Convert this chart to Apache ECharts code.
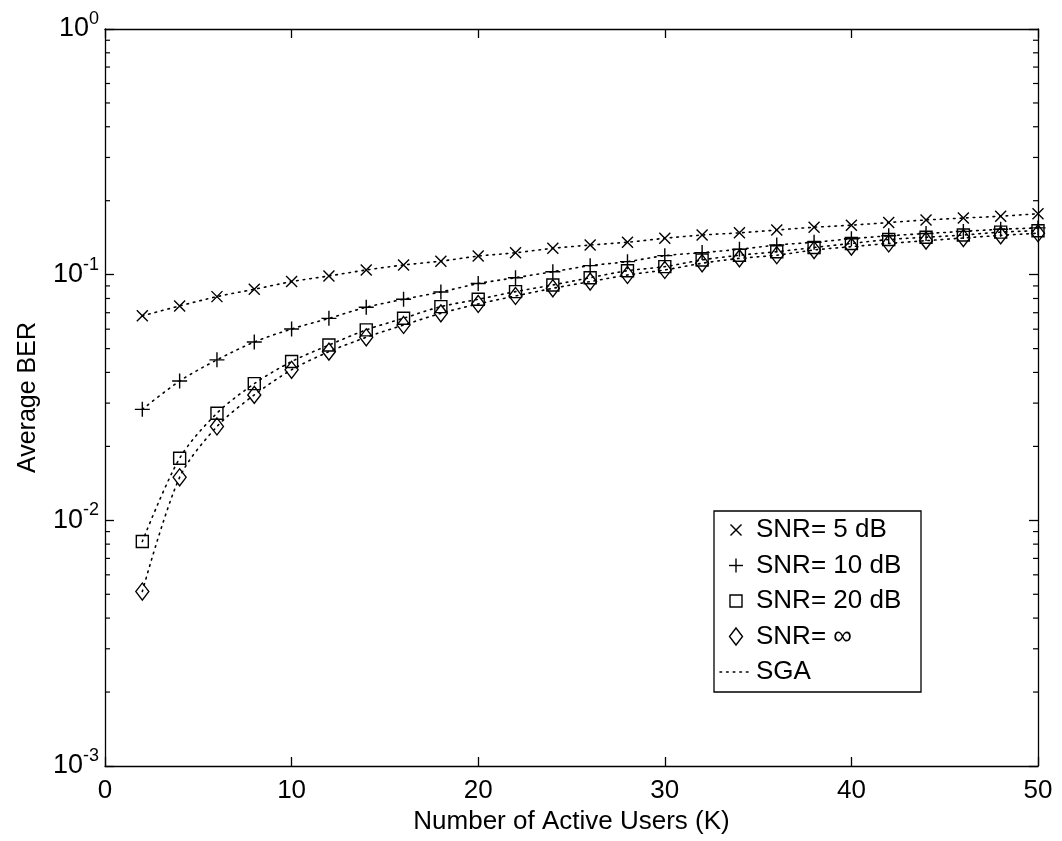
<!DOCTYPE html>
<html>
<head>
<meta charset="utf-8">
<script src="https://cdn.jsdelivr.net/npm/echarts@6/dist/echarts.min.js"></script>
<style>html,body{margin:0;padding:0;background:#fff}#c{width:1062px;height:841px}</style>
</head>
<body>
<div id="c"></div>
<script>
// ---- data ----
var users = [2,4,6,8,10,12,14,16,18,20,22,24,26,28,30,32,34,36,38,40,42,44,46,48,50];
var snr5  = [0.068,0.0746,0.0814,0.0872,0.0937,0.0988,0.1045,0.1095,0.1135,0.119,0.1228,0.128,0.132,0.1355,0.1406,0.145,0.148,0.152,0.156,0.159,0.163,0.167,0.170,0.173,0.177];
var snr10 = [0.0283,0.0369,0.045,0.0532,0.0601,0.0664,0.0737,0.0794,0.085,0.092,0.0972,0.1028,0.1088,0.113,0.1195,0.123,0.1268,0.132,0.1355,0.140,0.144,0.147,0.150,0.153,0.155];
var snr20 = [0.0082,0.0179,0.0273,0.036,0.0443,0.0517,0.0596,0.0665,0.0741,0.0794,0.0853,0.0908,0.0972,0.1038,0.1078,0.1148,0.120,0.124,0.129,0.134,0.139,0.142,0.145,0.149,0.151];
var snrInf= [0.00513,0.01497,0.0241,0.0324,0.041,0.0486,0.0556,0.0624,0.0696,0.076,0.0819,0.088,0.0937,0.0997,0.1045,0.1113,0.1165,0.120,0.126,0.130,0.134,0.1375,0.141,0.1445,0.1475];
var minorTickValues = [0.002,0.003,0.004,0.005,0.006,0.007,0.008,0.009,0.02,0.03,0.04,0.05,0.06,0.07,0.08,0.09,0.2,0.3,0.4,0.5,0.6,0.7,0.8,0.9];
var legendNames = ['SNR= 5 dB','SNR= 10 dB','SNR= 20 dB','SNR= \u221E','SGA'];
var xTitle = 'Number of Active Users (K)';
var yTitle = 'Average BER';

function pairs(ys){ return users.map(function(x,i){ return [x, ys[i]]; }); }

var FONT = 'Liberation Sans, Arial, Helvetica, sans-serif';
var crossPath = 'path://M0,0 L10,10 M10,0 L0,10';
var plusPath = 'path://M5,0 L5,10 M0,5 L10,5';
var markerStyle = { color: 'transparent', borderColor: '#000', borderWidth: 1.4 };
var DOT = [1.6, 5];

function markerSeries(name, ys, symbol, size){
  return { name: name, type: 'line', data: pairs(ys), symbol: symbol, symbolSize: size,
    showSymbol: true, lineStyle: { width: 0, opacity: 0 }, itemStyle: markerStyle,
    z: 5, emphasis: { disabled: true } };
}
function sgaSeries(ys){
  return { name: 'SGA', type: 'line', data: pairs(ys), symbol: 'none', smooth: 0.3,
    lineStyle: { color: '#000', width: 1.6, type: DOT, cap: 'round' },
    z: 3, emphasis: { disabled: true } };
}

// ---- legend drawn as graphic (box geometry) ----
var LB = { x: 714, y: 511, w: 207, h: 181 };
var rowY0 = 530, rowGap = 35.5, mX = 736, tX = 756;
function legendGraphic(){
  var st = { stroke: '#000', lineWidth: 1.4, fill: 'none' };
  var els = [{ type: 'rect', shape: { x: LB.x, y: LB.y, width: LB.w, height: LB.h },
    style: { fill: '#fff', stroke: '#000', lineWidth: 1.3 }, z: 20 }];
  var ys = legendNames.map(function(n,i){ return rowY0 + i*rowGap; });
  var s = 5.5;
  els.push({ type: 'line', shape: { x1: mX-s, y1: ys[0]-s, x2: mX+s, y2: ys[0]+s }, style: st, z: 21 });
  els.push({ type: 'line', shape: { x1: mX-s, y1: ys[0]+s, x2: mX+s, y2: ys[0]-s }, style: st, z: 21 });
  els.push({ type: 'line', shape: { x1: mX-7, y1: ys[1], x2: mX+7, y2: ys[1] }, style: st, z: 21 });
  els.push({ type: 'line', shape: { x1: mX, y1: ys[1]-7, x2: mX, y2: ys[1]+7 }, style: st, z: 21 });
  els.push({ type: 'rect', shape: { x: mX-6, y: ys[2]-6, width: 12, height: 12 }, style: st, z: 21 });
  els.push({ type: 'polygon', shape: { points: [[mX, ys[3]-8.5],[mX+6.5, ys[3]],[mX, ys[3]+8.5],[mX-6.5, ys[3]]] }, style: st, z: 21 });
  els.push({ type: 'line', shape: { x1: mX-16, y1: ys[4], x2: mX+14, y2: ys[4] },
    style: { stroke: '#000', lineWidth: 1.6, lineDash: DOT, lineCap: 'round' }, z: 21 });
  legendNames.forEach(function(n,i){
    els.push({ type: 'text', x: tX, y: ys[i], z: 21,
      style: { text: n, fill: '#000', font: '26px ' + FONT, textVerticalAlign: 'middle', verticalAlign: 'middle' } });
  });
  return els;
}

var chart = echarts.init(document.getElementById('c'), null, { renderer: 'canvas' });

var axisLine = { onZero: false, lineStyle: { color: '#000', width: 1.3 } };
var axisTick = { inside: true, length: 9, lineStyle: { color: '#000', width: 1.3 } };

var option = {
  backgroundColor: '#fff',
  animation: false,
  grid: { left: 105, top: 29, right: 24, bottom: 75, show: false },
  xAxis: [
    { type: 'value', min: 0, max: 50, interval: 10,
      name: xTitle, nameLocation: 'middle', nameGap: 39,
      nameTextStyle: { fontFamily: FONT, fontSize: 26, color: '#000' },
      axisLine: axisLine, axisTick: axisTick,
      axisLabel: { fontFamily: FONT, fontSize: 26, color: '#000', margin: 12 },
      splitLine: { show: false } },
    { type: 'value', min: 0, max: 50, interval: 10, position: 'top',
      axisLine: axisLine, axisTick: axisTick, axisLabel: { show: false }, splitLine: { show: false } }
  ],
  yAxis: [
    { type: 'log', logBase: 10, min: 0.001, max: 1,
      name: yTitle, nameLocation: 'middle', nameGap: 64,
      nameTextStyle: { fontFamily: FONT, fontSize: 25, color: '#000' },
      axisLine: axisLine, axisTick: axisTick,
      splitLine: { show: false }, minorTick: { show: false },
      axisLabel: { margin: 6,
        formatter: function(v){ var e = Math.round(Math.log(v)/Math.LN10); return '{b|10}{s|' + e + '}'; },
        rich: { b: { fontFamily: FONT, fontSize: 27, color: '#000' },
                s: { fontFamily: FONT, fontSize: 18, color: '#000', padding: [0, 0, 20, 0] } } } },
    { type: 'log', logBase: 10, min: 0.001, max: 1, position: 'right',
      axisLine: axisLine, axisTick: axisTick, axisLabel: { show: false }, splitLine: { show: false } }
  ],
  graphic: legendGraphic(),
  series: [
    sgaSeries(snr5), sgaSeries(snr10), sgaSeries(snr20), sgaSeries(snrInf),
    markerSeries(legendNames[0], snr5, crossPath, 11),
    markerSeries(legendNames[1], snr10, plusPath, 15),
    markerSeries(legendNames[2], snr20, 'rect', 12),
    markerSeries(legendNames[3], snrInf, 'diamond', [13, 17]),
    { type: 'custom', name: 'minorTicks', silent: true, z: 2,
      data: minorTickValues.map(function(v){ return [0, v]; }),
      renderItem: function(params, api){
        var v = api.value(1);
        var pL = api.coord([0, v]);
        var pR = api.coord([50, v]);
        return { type: 'group', children: [
          { type: 'line', shape: { x1: pL[0], y1: pL[1], x2: pL[0] + 5, y2: pL[1] }, style: { stroke: '#000', lineWidth: 1.2 } },
          { type: 'line', shape: { x1: pR[0] - 5, y1: pR[1], x2: pR[0], y2: pR[1] }, style: { stroke: '#000', lineWidth: 1.2 } }
        ] };
      } }
  ]
};
chart.setOption(option);
</script>
</body>
</html>
